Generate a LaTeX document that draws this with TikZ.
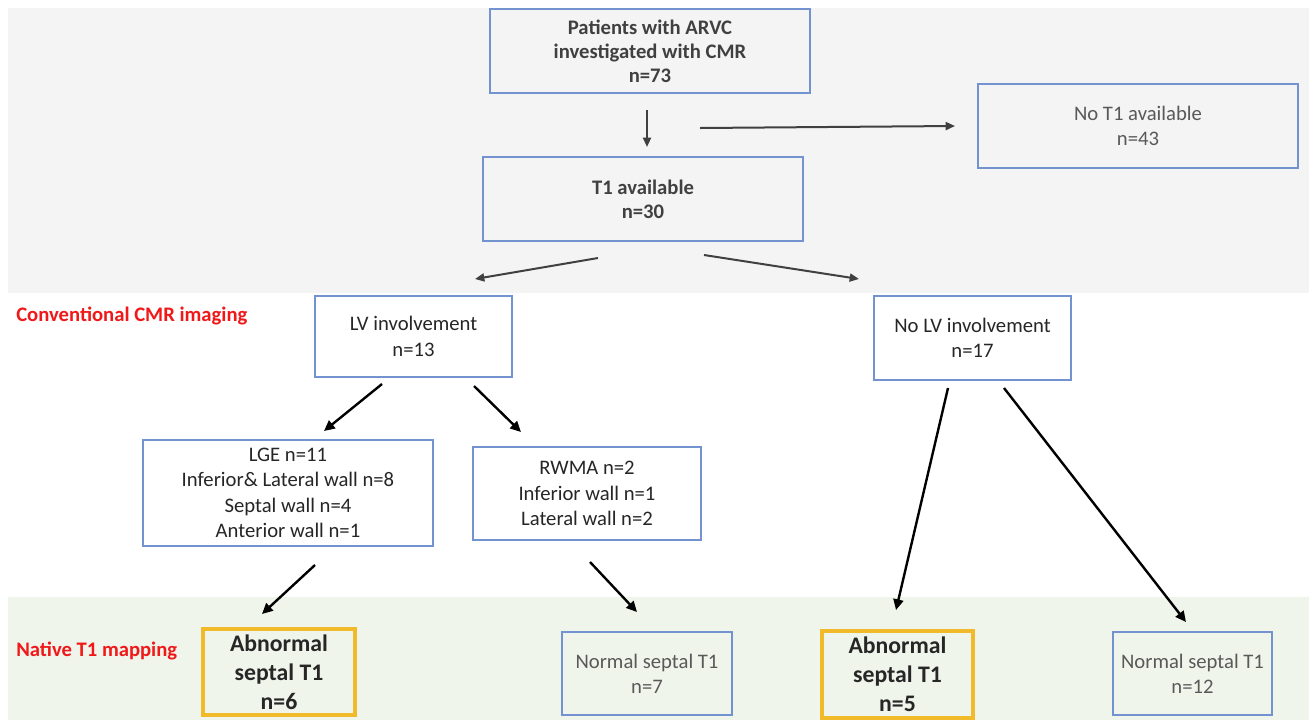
\documentclass[tikz,border=0pt]{standalone}
\usepackage{fontspec}
\setmainfont{Carlito}
\usetikzlibrary{arrows.meta,calc}
\definecolor{boxblue}{RGB}{114,147,207}
\definecolor{goldbox}{RGB}{240,186,42}
\definecolor{bandgray}{RGB}{244,244,244}
\definecolor{bandgreen}{RGB}{240,245,236}
\definecolor{txtgray}{RGB}{89,89,89}
\definecolor{txtdark}{RGB}{64,64,64}
\definecolor{txtblack}{RGB}{38,38,38}
\definecolor{redlab}{RGB}{240,24,24}
\definecolor{arrgray}{RGB}{64,64,64}
\begin{document}
\begin{tikzpicture}[x=0.75pt,y=-0.75pt,
  box/.style={draw=boxblue,line width=0.8pt,align=center,inner sep=0pt,
    font=\fontsize{15.5}{19}\selectfont,text=txtblack},
  boldbox/.style={box,font=\bfseries\fontsize{15.5}{18}\selectfont,text=txtdark},
  graybox/.style={box,text=txtgray},
  goldnode/.style={draw=goldbox,line width=2.6pt,align=center,inner sep=0pt,
    font=\bfseries\fontsize{17.8}{21.75}\selectfont,text=txtblack},
  redlabel/.style={anchor=west,inner sep=0pt,text=redlab,font=\bfseries\fontsize{15.5}{19}\selectfont},
  garr/.style={draw=arrgray,line width=1.5pt,-{Triangle[length=7pt,width=6pt]}},
  barr/.style={draw=black,line width=1.8pt,-{Triangle[length=8pt,width=7.5pt]}}
]
\useasboundingbox[fill=white] (0,0) rectangle (1309,722);
% bands
\fill[bandgray] (8,8) rectangle (1309,293);
\fill[bandgreen] (8,597) rectangle (1309,720);

% nodes
\node[boldbox,minimum width=240pt,minimum height=63pt] (top) at (650,51)
  {Patients with ARVC\\investigated with CMR\\n=73};
\node[graybox,minimum width=240pt,minimum height=63pt] (noT1) at (1138,126)
  {No T1 available\\n=43};
\node[boldbox,minimum width=240pt,minimum height=63pt] (T1) at (643,199)
  {T1 available\\n=30};
\node[box,minimum width=147.75pt,minimum height=60.75pt] (LV) at (413.5,336.5)
  {LV involvement\\n=13};
\node[box,minimum width=147.75pt,minimum height=63pt] (noLV) at (972.5,338)
  {No LV involvement\\n=17};
\node[box,minimum width=217.5pt,minimum height=79.5pt] (LGE) at (288,493)
  {LGE n=11\\Inferior\& Lateral wall n=8\\Septal wall n=4\\Anterior wall n=1};
\node[box,minimum width=171pt,minimum height=69.75pt] (RWMA) at (587,493.5)
  {RWMA n=2\\Inferior wall n=1\\Lateral wall n=2};
\node[goldnode,minimum width=114pt,minimum height=64.5pt] (ab1) at (279,672)
  {Abnormal\\septal T1\\n=6};
\node[graybox,minimum width=127.5pt,minimum height=62.25pt] (n7) at (647,673.5)
  {Normal septal T1\\n=7};
\node[goldnode,minimum width=113.25pt,minimum height=65.25pt] (ab2) at (897.5,674.5)
  {Abnormal\\septal T1\\n=5};
\node[graybox,minimum width=119.25pt,minimum height=62.25pt] (n12) at (1192.5,673.5)
  {Normal septal T1\\n=12};

% section labels
\node[redlabel] (conv) at (16,316) {Conventional CMR imaging};
\node[redlabel] (nat) at (16,651) {Native T1 mapping};

% connector end points
\coordinate (a1s) at (647,110);  \coordinate (a1e) at (647,147);
\coordinate (a2s) at (700,128);  \coordinate (a2e) at (955,126);
\coordinate (a3s) at (598,258);  \coordinate (a3e) at (475,279);
\coordinate (a4s) at (704,255);  \coordinate (a4e) at (859,279);
\coordinate (b1s) at (382,384);  \coordinate (b1e) at (324,431);
\coordinate (b2s) at (474,386);  \coordinate (b2e) at (521,432);
\coordinate (b3s) at (948,388);  \coordinate (b3e) at (896,610);
\coordinate (b4s) at (1004,388); \coordinate (b4e) at (1186,622);
\coordinate (b5s) at (315,565);  \coordinate (b5e) at (262,614);
\coordinate (b6s) at (590,562);  \coordinate (b6e) at (637,612);

\draw[garr] (a1s) -- (a1e);
\draw[garr] (a2s) -- (a2e);
\draw[garr] (a3s) -- (a3e);
\draw[garr] (a4s) -- (a4e);
\draw[barr] (b1s) -- (b1e);
\draw[barr] (b2s) -- (b2e);
\draw[barr] (b3s) -- (b3e);
\draw[barr] (b4s) -- (b4e);
\draw[barr] (b5s) -- (b5e);
\draw[barr] (b6s) -- (b6e);
\end{tikzpicture}
\end{document}
